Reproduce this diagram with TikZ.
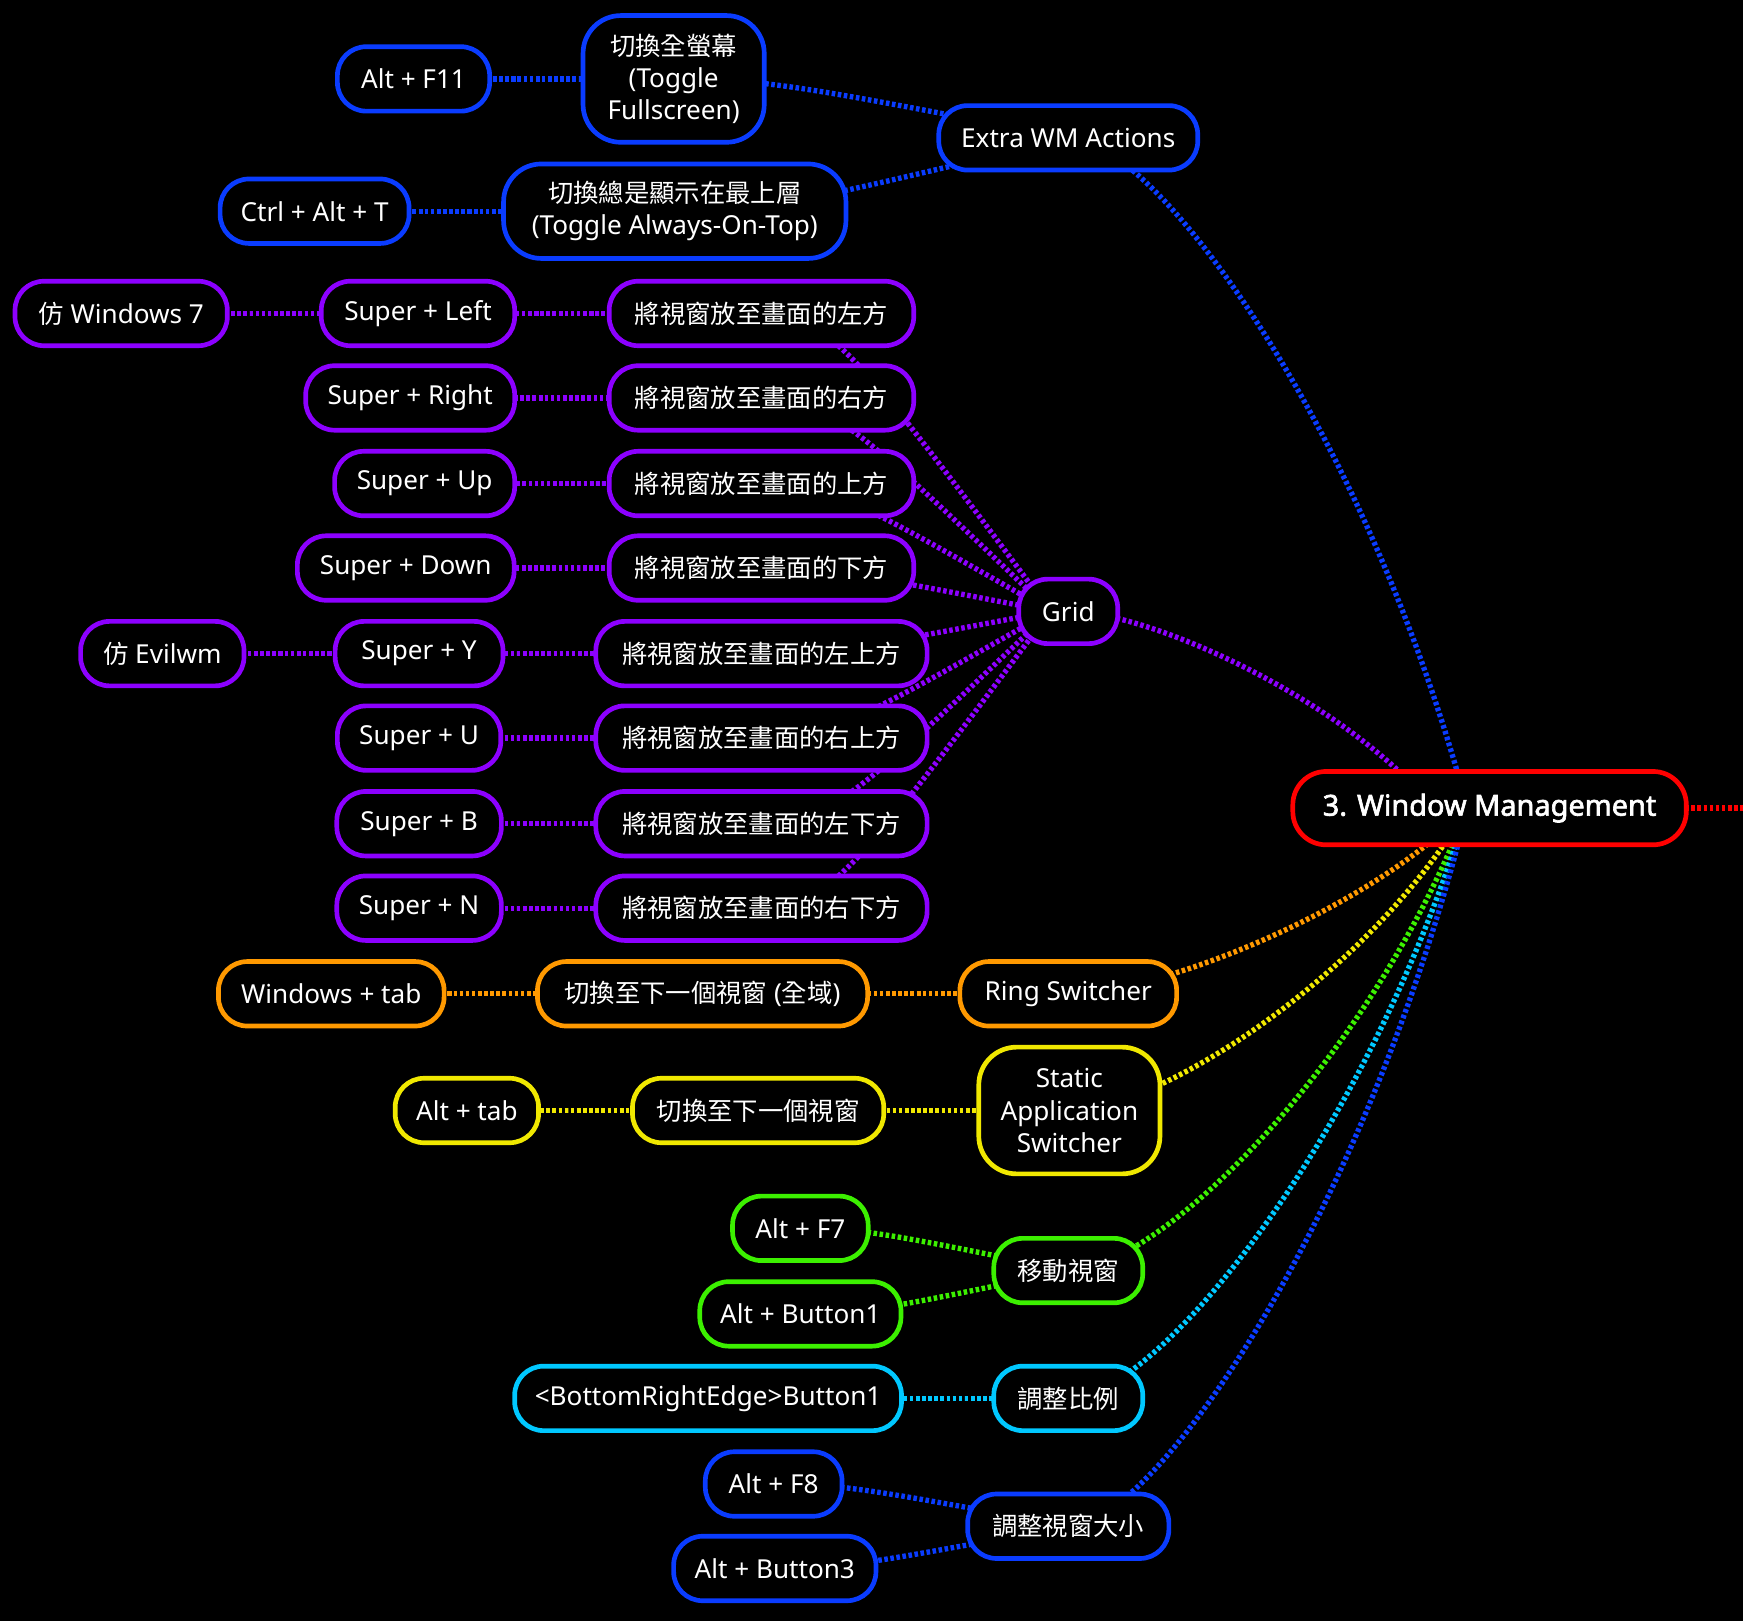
\documentclass[tikz,border=0pt]{standalone}
\usepackage{fontspec}
\setmainfont{Noto Sans}
\newfontfamily\cjk[Scale=0.97]{Noto Sans CJK TC}
\newfontfamily\rootfont[FakeBold=2.2]{Noto Sans}
\usetikzlibrary{calc}
\pgfdeclarelayer{back}
\pgfdeclarelayer{edges}
\pgfsetlayers{back,edges,main}
\definecolor{cblue}{RGB}{10,60,255}
\definecolor{cpurp}{RGB}{140,0,255}
\definecolor{corng}{RGB}{255,153,0}
\definecolor{cyell}{RGB}{240,232,0}
\definecolor{cgren}{RGB}{60,240,0}
\definecolor{ccyan}{RGB}{0,200,255}
\definecolor{cred}{RGB}{255,0,0}
\tikzset{
  nd/.style={draw=#1, line width=4.2pt, rounded corners=26pt, fill=black, text=white,
    minimum height=58pt, inner sep=0pt, align=center, font=\fontsize{23.5}{29}\selectfont},
  conn/.style={draw=#1, line width=4.8pt, dash pattern=on 3.2pt off 2.3pt},
}
\newcommand\nb[5]{\node[nd=#1,minimum width=#2pt] (#3) at (#4) {#5};}
\newcommand\lnkA[3]{\draw[conn=#1] let \p1=(#2.center), \p2=(#3) in (\p1) .. controls ({\x1+0.23*(\x2-\x1)},{\y1}) and ({\x1+0.33*(\x2-\x1)},{\y1+0.13*(\y2-\y1)}) .. (\p2);}
\newcommand\lnkB[3]{\draw[conn=#1] let \p1=(#2.center), \p2=(#3) in (\p1) .. controls ({\x1+0.22*(\x2-\x1)},{\y1}) and ({\x1+0.75*(\x2-\x1)},{\y1+0.44*(\y2-\y1)}) .. (\p2);}
\begin{document}
\begin{tikzpicture}[x=1pt,y=-1pt]
\useasboundingbox (0,0) rectangle (1568,1458);
\begin{pgfonlayer}{back}
\fill[black] (0,0) rectangle (1568,1458);
\end{pgfonlayer}
% root
\node[nd=cred, minimum width=354pt, minimum height=66pt, rounded corners=30pt, font=\rootfont\fontsize{26}{30}\selectfont] (root) at (1340,727) {3. Window Management};
% blue group
\nb{cblue}{137}{afel}{372,71}{Alt + F11}
\node[nd=cblue, minimum width=163pt, minimum height=114pt, rounded corners=34pt] (tfs) at (606,71) {{\cjk 切換全螢幕}\\(Toggle\\Fullscreen)};
\nb{cblue}{233}{extra}{961,124}{Extra WM Actions}
\nb{cblue}{170}{cat}{283,190}{Ctrl + Alt + T}
\node[nd=cblue, minimum width=308pt, minimum height=85pt, rounded corners=34pt] (ttop) at (607,190) {{\cjk 切換總是顯示在最上層}\\(Toggle Always-On-Top)};
% purple group
\nb{cpurp}{191}{w7}{109,282}{{\cjk 仿} Windows 7}
\nb{cpurp}{174}{sl}{376,282}{Super + Left}
\nb{cpurp}{274}{g1}{685,282}{\cjk 將視窗放至畫面的左方}
\nb{cpurp}{188}{sr}{369,358}{Super + Right}
\nb{cpurp}{274}{g2}{685,358}{\cjk 將視窗放至畫面的右方}
\nb{cpurp}{162}{su}{382,435}{Super + Up}
\nb{cpurp}{274}{g3}{685,435}{\cjk 將視窗放至畫面的上方}
\nb{cpurp}{195}{sd}{365,511}{Super + Down}
\nb{cpurp}{274}{g4}{685,511}{\cjk 將視窗放至畫面的下方}
\nb{cpurp}{147}{ev}{146,588}{{\cjk 仿} Evilwm}
\nb{cpurp}{151}{sy}{377,588}{Super + Y}
\nb{cpurp}{298}{g5}{685,588}{\cjk 將視窗放至畫面的左上方}
\nb{cpurp}{147}{sU}{377,664}{Super + U}
\nb{cpurp}{298}{g6}{685,664}{\cjk 將視窗放至畫面的右上方}
\nb{cpurp}{148}{sb}{377,741}{Super + B}
\nb{cpurp}{298}{g7}{685,741}{\cjk 將視窗放至畫面的左下方}
\nb{cpurp}{148}{sn}{377,817}{Super + N}
\nb{cpurp}{298}{g8}{685,817}{\cjk 將視窗放至畫面的右下方}
\nb{cpurp}{89}{grid}{961,550}{Grid}
% orange
\nb{corng}{203}{wt}{298,894}{Windows + tab}
\nb{corng}{297}{nxg}{632,894}{{\cjk 切換至下一個視窗} ({\cjk 全域})}
\nb{corng}{195}{ring}{961,894}{Ring Switcher}
% yellow
\nb{cyell}{129}{at}{420,999}{Alt + tab}
\nb{cyell}{226}{nx}{682,999}{\cjk 切換至下一個視窗}
\node[nd=cyell, minimum width=163pt, minimum height=114pt, rounded corners=34pt] (sas) at (962,999) {Static\\Application\\Switcher};
% green
\nb{cgren}{122}{af7}{720,1105}{Alt + F7}
\nb{cgren}{134}{mv}{961,1143}{\cjk 移動視窗}
\nb{cgren}{181}{ab1}{720,1182}{Alt + Button1}
% cyan
\nb{ccyan}{348}{bre}{637,1258}{<BottomRightEdge>Button1}
\nb{ccyan}{134}{rs}{961,1258}{\cjk 調整比例}
% blue bottom
\nb{cblue}{123}{af8}{696,1335}{Alt + F8}
\nb{cblue}{181}{rz}{961,1373}{\cjk 調整視窗大小}
\nb{cblue}{182}{ab3}{697,1411}{Alt + Button3}
\coordinate (gridE) at ($(grid.center)+(-16,0)$);
\coordinate (rootE) at ($(root.center)+(-20,0)$);
\coordinate (rootG) at ($(root.center)+(-50,0)$);
\coordinate (rootOut) at (1568,727);
\begin{pgfonlayer}{edges}
\draw[conn=cred] (root.center) -- (rootOut);
% blue top
\lnkA{cblue}{afel}{tfs.center}
\lnkA{cblue}{cat}{ttop.center}
\lnkA{cblue}{tfs}{extra.center}
\lnkA{cblue}{ttop}{extra.center}
\lnkB{cblue}{extra}{rootE}
% purple
\lnkA{cpurp}{w7}{sl.center}
\lnkA{cpurp}{ev}{sy.center}
\lnkA{cpurp}{sl}{g1.center}
\lnkA{cpurp}{sr}{g2.center}
\lnkA{cpurp}{su}{g3.center}
\lnkA{cpurp}{sd}{g4.center}
\lnkA{cpurp}{sy}{g5.center}
\lnkA{cpurp}{sU}{g6.center}
\lnkA{cpurp}{sb}{g7.center}
\lnkA{cpurp}{sn}{g8.center}
\lnkA{cpurp}{g1}{gridE}
\lnkA{cpurp}{g2}{gridE}
\lnkA{cpurp}{g3}{gridE}
\lnkA{cpurp}{g4}{gridE}
\lnkA{cpurp}{g5}{gridE}
\lnkA{cpurp}{g6}{gridE}
\lnkA{cpurp}{g7}{gridE}
\lnkA{cpurp}{g8}{gridE}
\lnkB{cpurp}{grid}{rootG}
% orange
\lnkA{corng}{wt}{nxg.center}
\lnkA{corng}{nxg}{ring.center}
\lnkB{corng}{ring}{rootE}
% yellow
\lnkA{cyell}{at}{nx.center}
\lnkA{cyell}{nx}{sas.center}
\lnkB{cyell}{sas}{rootE}
% green
\lnkA{cgren}{af7}{mv.center}
\lnkA{cgren}{ab1}{mv.center}
\lnkB{cgren}{mv}{rootE}
% cyan
\lnkA{ccyan}{bre}{rs.center}
\lnkB{ccyan}{rs}{rootE}
% blue bottom
\lnkA{cblue}{af8}{rz.center}
\lnkA{cblue}{ab3}{rz.center}
\lnkB{cblue}{rz}{rootE}
\end{pgfonlayer}
\end{tikzpicture}
\end{document}
